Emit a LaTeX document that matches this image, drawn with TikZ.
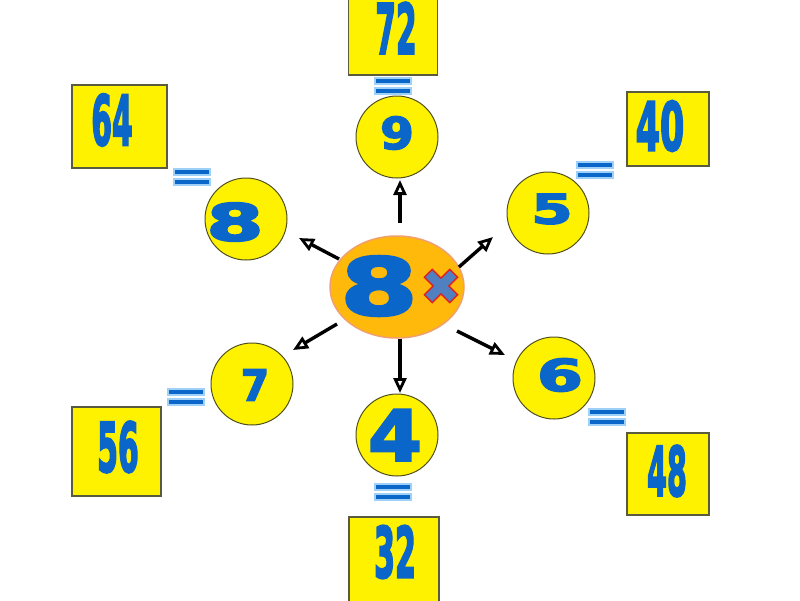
\documentclass[tikz,border=0pt]{standalone}
\usepackage{fontspec}
\usetikzlibrary{arrows.meta,shapes.geometric}
\newfontfamily\dvfont{DejaVu Sans}[BoldFeatures={FakeBold=3.5}]
\definecolor{numblue}{HTML}{0A66C8}
\definecolor{glowblue}{HTML}{9FD0F8}
\definecolor{circedge}{HTML}{50501E}
\definecolor{boxedge}{HTML}{5A5A3C}
\definecolor{ellfill}{HTML}{FFB90A}
\definecolor{elledge}{HTML}{F0A070}
\definecolor{crossfill}{HTML}{5080C0}
\definecolor{crossedge}{HTML}{E02020}
\newcommand\dg[3]{{\fontsize{#1}{#1}\selectfont\scalebox{#2}[1]{#3}}}
\tikzset{
  circ/.style={circle, draw=circedge, fill=yellow, line width=1pt, minimum size=82pt, inner sep=0pt},
  sqbox/.style={rectangle, draw=boxedge, fill=yellow, line width=1.2pt, inner sep=0pt},
  digit/.style={text=numblue, inner sep=0pt, font=\dvfont\bfseries},
  arr/.style={line width=3.4pt, -{Triangle[open, length=15pt, width=13pt, line width=2.8pt]}},
  eqs/.pic={
    \filldraw[fill=numblue, draw=glowblue, line width=1.5pt] (-18,-8) rectangle (18,-2);
    \filldraw[fill=numblue, draw=glowblue, line width=1.5pt] (-18,2) rectangle (18,8);
  }
}
\begin{document}
\begin{tikzpicture}[x=1pt,y=-1pt]
\useasboundingbox (0,0) rectangle (800,600);
\fill[white] (0,0) rectangle (800,600);

% boxes
\node[sqbox, minimum width=89pt, minimum height=78pt] (b72) at (393,36) {};
\node[sqbox, minimum width=95pt, minimum height=83pt] (b64) at (119.5,126.5) {};
\node[sqbox, minimum width=82pt, minimum height=74pt] (b40) at (668,129) {};
\node[sqbox, minimum width=82pt, minimum height=82pt] (b48) at (668,474) {};
\node[sqbox, minimum width=89pt, minimum height=89pt] (b56) at (116.5,451.5) {};
\node[sqbox, minimum width=90pt, minimum height=86pt] (b32) at (394,560) {};

\node[digit] (t72) at (396,28) {\dg{69}{0.43}{72}};
\node[digit] (t64) at (112,120) {\dg{69}{0.43}{64}};
\node[digit] (t40) at (660,126) {\dg{67}{0.52}{40}};
\node[digit] (t48) at (667,471) {\dg{68}{0.42}{48}};
\node[digit] (t56) at (118,447) {\dg{68}{0.44}{56}};
\node[digit] (t32) at (395,552) {\dg{70}{0.43}{32}};

% equals
\pic at (393,86) {eqs};
\pic at (192,177) {eqs};
\pic at (595,170) {eqs};
\pic at (607,417) {eqs};
\pic at (186,397) {eqs};
\pic at (393,492) {eqs};

% circles
\node[circ] (n9) at (397,137) {};
\node[circ] (n8) at (246,219) {};
\node[circ] (n5) at (548,213) {};
\node[circ] (n6) at (554,378) {};
\node[circ] (n7) at (252,384) {};
\node[circ] (n4) at (397,435) {};

\node[digit] (d9) at (397,133) {\dg{44}{1.1}{9}};
\node[digit] (d8) at (235,222) {\dg{51}{1.6}{8}};
\node[digit] (d5) at (552,209) {\dg{41}{1.45}{5}};
\node[digit] (d6) at (560,375) {\dg{44}{1.5}{6}};
\node[digit] (d7) at (255,385) {\dg{43}{0.95}{7}};
\node[digit] (d4) at (395,435) {\dg{70}{1.1}{4}};

% centre
\node[ellipse, draw=elledge, fill=ellfill, line width=1.5pt, minimum width=134pt, minimum height=102pt, inner sep=0pt] (c) at (397,287) {};
\node[digit] (c8) at (379,286) {\dg{79}{1.4}{8}};
\begin{scope}[shift={(441,286)}, rotate=45]
\filldraw[fill=crossfill, draw=crossedge, line width=1.4pt]
  (5.5,18) -- (5.5,5.5) -- (18,5.5) -- (18,-5.5) -- (5.5,-5.5) -- (5.5,-18) -- (-5.5,-18) -- (-5.5,-5.5) -- (-18,-5.5) -- (-18,5.5) -- (-5.5,5.5) -- (-5.5,18) -- cycle;
\end{scope}

% arrows
\coordinate (s9) at (400,223); \coordinate (e9) at (400,180);
\coordinate (s8) at (339,259); \coordinate (e8) at (299,238);
\coordinate (s5) at (459,267); \coordinate (e5) at (493,237);
\coordinate (s7) at (337,324); \coordinate (e7) at (293,350);
\coordinate (s4) at (400,339); \coordinate (e4) at (400,393);
\coordinate (s6) at (457,331); \coordinate (e6) at (505,355);
\draw[arr] (s9) -- (e9);
\draw[arr] (s8) -- (e8);
\draw[arr] (s5) -- (e5);
\draw[arr] (s7) -- (e7);
\draw[arr] (s4) -- (e4);
\draw[arr] (s6) -- (e6);
\end{tikzpicture}
\end{document}
